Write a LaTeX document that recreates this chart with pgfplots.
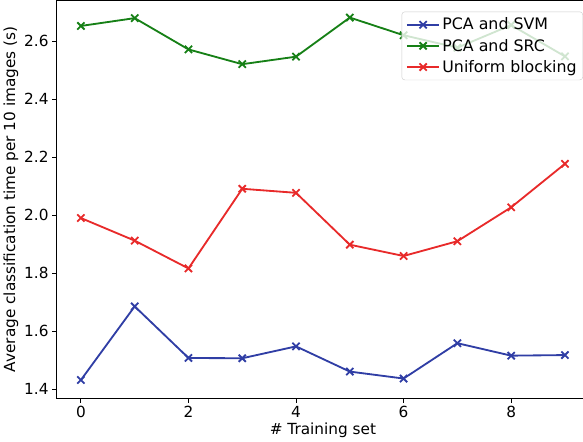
\documentclass[border=0pt]{standalone}
\usepackage{pgfplots}
\pgfplotsset{compat=1.18}
\usepackage{fontspec}
\setmainfont{DejaVu Sans}
\definecolor{cblue}{RGB}{48,62,165}
\definecolor{cgreen}{RGB}{22,128,22}
\definecolor{cred}{RGB}{232,42,42}
\begin{document}
\begin{tikzpicture}
\begin{axis}[
  scale only axis,
  width=522pt, height=390pt,
  xmin=-0.45, xmax=9.45,
  ymin=1.368, ymax=2.741,
  xtick={0,2,4,6,8},
  ytick={1.4,1.6,1.8,2.0,2.2,2.4,2.6},
  yticklabel style={/pgf/number format/fixed,/pgf/number format/fixed zerofill,/pgf/number format/precision=1},
  /pgf/number format/assume math mode=true,
  tick align=outside,
  major tick length=4.5pt,
  tick style={black, line width=0.9pt},
  axis line style={line width=0.9pt},
  xtick pos=bottom, ytick pos=left,
  font=\fontsize{15}{18}\selectfont,
  xlabel={\# Training set},
  ylabel={Average classification time per 10 images (s)},
  xlabel style={yshift=2pt},
  ylabel style={yshift=-1pt},
  legend style={at={(rel axis cs:0.9885,0.972)}, anchor=north east,
    draw=black!20, fill=white, fill opacity=0.8, text opacity=1,
    rounded corners=3pt, font=\fontsize{15.5}{18}\selectfont,
    row sep=3.5pt, inner sep=4pt},
  legend cell align=left,
  legend image code/.code={\draw[line width=1.8pt,mark repeat=2,mark phase=2,mark size=5pt] plot coordinates {(0pt,0pt) (16pt,0pt) (32pt,0pt)};},
  every axis plot/.append style={line width=1.8pt, mark=x, mark size=5pt},
]
\addplot[cblue] coordinates {(0,1.431) (1,1.685) (2,1.507) (3,1.506) (4,1.547) (5,1.460) (6,1.436) (7,1.558) (8,1.515) (9,1.517)};
\addlegendentry{PCA and SVM}
\addplot[cgreen] coordinates {(0,2.653) (1,2.680) (2,2.572) (3,2.521) (4,2.547) (5,2.682) (6,2.621) (7,2.578) (8,2.656) (9,2.548)};
\addlegendentry{PCA and SRC}
\addplot[cred] coordinates {(0,1.990) (1,1.912) (2,1.816) (3,2.091) (4,2.077) (5,1.898) (6,1.859) (7,1.910) (8,2.027) (9,2.177)};
\addlegendentry{Uniform blocking}
\coordinate (br) at (rel axis cs:0.9885,0);
\end{axis}
\pgfresetboundingbox
\useasboundingbox (current axis.outer south west) rectangle (br |- current axis.outer north east);
\end{tikzpicture}
\end{document}
